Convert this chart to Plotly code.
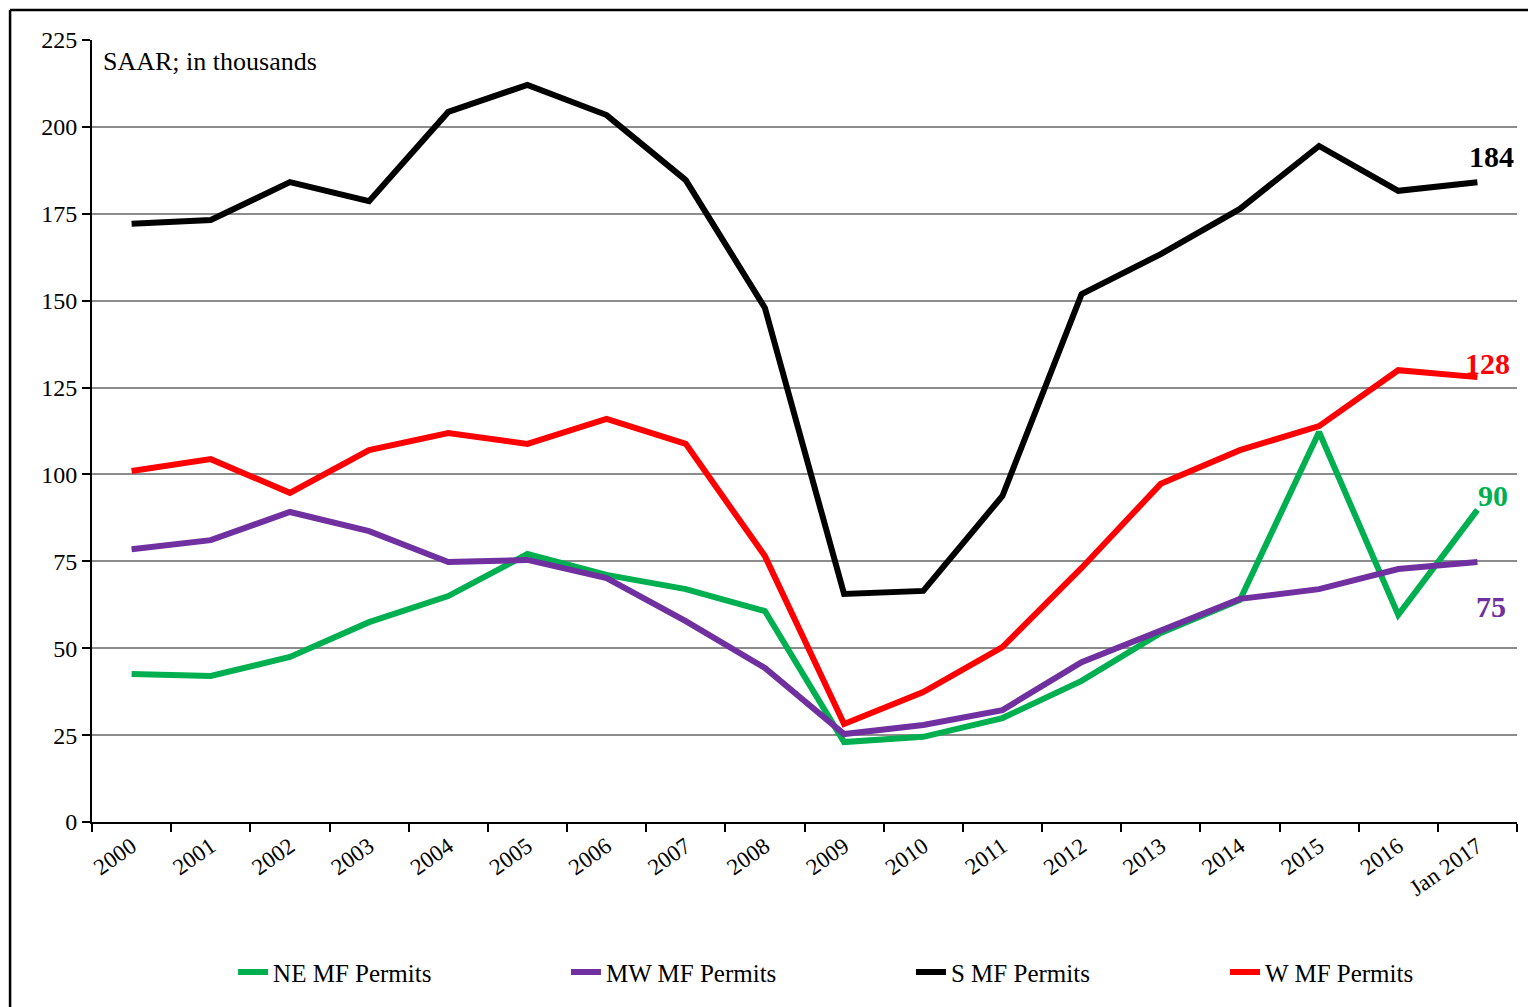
import plotly.graph_objects as go

# categorias e séries (SAAR, milhares)
years = ["2000", "2001", "2002", "2003", "2004", "2005", "2006", "2007", "2008",
         "2009", "2010", "2011", "2012", "2013", "2014", "2015", "2016", "Jan 2017"]

ne_permits = [42.6, 42.0, 47.5, 57.5, 65.0, 77.1, 71.1, 67.0, 60.7,
              23.0, 24.5, 29.9, 40.6, 54.4, 63.9, 112.2, 59.6, 89.8]
mw_permits = [78.5, 81.1, 89.2, 83.7, 74.8, 75.4, 70.2, 57.8, 44.3,
              25.3, 27.9, 32.2, 46.0, 55.2, 64.2, 67.0, 72.8, 74.8]
s_permits = [172.1, 173.2, 184.1, 178.6, 204.3, 212.1, 203.4, 184.7, 147.9,
             65.6, 66.5, 93.8, 151.9, 163.4, 176.4, 194.5, 181.6, 184.1]
w_permits = [101.0, 104.4, 94.7, 107.0, 111.9, 108.8, 116.0, 108.8, 76.5,
             28.2, 37.4, 50.3, 73.1, 97.3, 107.0, 113.9, 130.0, 128.0]

series = [
    ("NE MF Permits", ne_permits, "#00B050", "90"),
    ("MW MF Permits", mw_permits, "#7030A0", "75"),
    ("S MF Permits", s_permits, "#000000", "184"),
    ("W MF Permits", w_permits, "#FF0000", "128"),
]

serif = "Liberation Serif, Times New Roman, serif"

# uma legenda por série para espaçar como no original
legend_ids = ["legend", "legend2", "legend3", "legend4"]
legend_x = [0.099, 0.3326, 0.5747, 0.7951]

fig = go.Figure()
for (name, vals, color, _), lid in zip(series, legend_ids):
    fig.add_trace(go.Scatter(x=years, y=vals, name=name, mode="lines", legend=lid,
                             line=dict(color=color, width=6)))

# rótulos finais
label_shift = {"90": (16, 14), "75": (14, -44), "184": (14, 26), "128": (10, 14)}
for name, vals, color, label in series:
    dx, dy = label_shift[label]
    fig.add_annotation(x=years[-1], y=vals[-1], text="<b>" + label + "</b>",
                       showarrow=False, xshift=dx, yshift=dy,
                       font=dict(family=serif, size=30, color=color))

fig.add_annotation(xref="paper", yref="paper", x=0.006, y=0.994, text="SAAR; in thousands",
                   showarrow=False, xanchor="left", yanchor="top",
                   font=dict(family=serif, size=26, color="black"))

# moldura externa (topo e esquerda)
fig.add_shape(type="line", xref="paper", yref="paper", x0=-0.0575, x1=1.012,
              y0=1.0385, y1=1.0385, line=dict(color="black", width=2.5))
fig.add_shape(type="line", xref="paper", yref="paper", x0=-0.0575, x1=-0.0575,
              y0=1.0385, y1=-0.25, line=dict(color="black", width=2.5))

legends = {}
for lid, lx in zip(legend_ids, legend_x):
    legends[lid] = dict(orientation="h", x=lx, xanchor="left", y=-0.192, yanchor="middle",
                        bgcolor="rgba(0,0,0,0)",
                        font=dict(family=serif, size=25, color="black"))

fig.update_layout(
    width=1528, height=999,
    margin=dict(l=84, r=19, t=32, b=185, autoexpand=False),
    paper_bgcolor="white", plot_bgcolor="white",
    font=dict(family=serif, size=22, color="black"),
    showlegend=True,
    **legends,
)
fig.update_xaxes(type="category", range=[-0.5, 17.5], tickson="boundaries", ticks="outside",
                 ticklen=8, tickwidth=2, tickcolor="black", showline=True, linecolor="black",
                 linewidth=2, showgrid=False, tickangle=-35, automargin=False,
                 tickfont=dict(family=serif, size=23, color="black"))
fig.update_yaxes(range=[0, 225], dtick=25, ticks="outside", ticklen=8, tickwidth=2,
                 tickcolor="black", showline=True, linecolor="black", linewidth=2,
                 showgrid=True, gridcolor="#8c8c8c", gridwidth=2, zeroline=False,
                 automargin=False,
                 tickfont=dict(family=serif, size=24, color="black"))

fig.write_html("out.html")
